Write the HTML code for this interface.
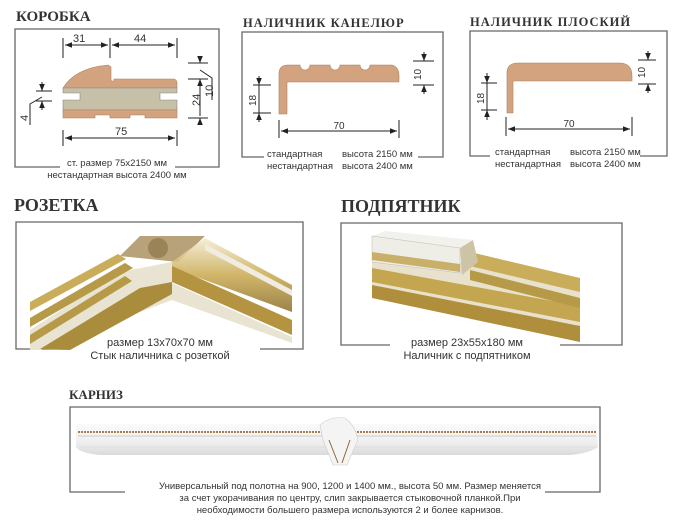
<!DOCTYPE html>
<html><head><meta charset="utf-8"><style>
body{margin:0;background:#fff;width:700px;height:531px;overflow:hidden}
svg{display:block}
.s{font-family:"Liberation Sans",sans-serif;fill:#333}
.t{font-family:"Liberation Serif",serif;fill:#333}
</style></head><body>
<svg width="700" height="531" viewBox="0 0 700 531" xmlns="http://www.w3.org/2000/svg">
<defs>
<marker id="a" viewBox="0 0 10 10" refX="10" refY="5" markerWidth="7" markerHeight="7" orient="auto-start-reverse"><path d="M0,1 L10,5 L0,9z" fill="#222"/></marker>
<linearGradient id="gold" x1="0" y1="0" x2="0" y2="1"><stop offset="0" stop-color="#f4ecd0"/><stop offset=".5" stop-color="#c9a94f"/><stop offset="1" stop-color="#8a6d28"/></linearGradient>
<linearGradient id="cor" x1="0" y1="0" x2="0" y2="1"><stop offset="0" stop-color="#fafafa"/><stop offset=".6" stop-color="#eeeeee"/><stop offset="1" stop-color="#d8d8d8"/></linearGradient>
</defs>
<g stroke="#666" stroke-width="1.3" fill="none">
<path d="M60,167 H15 V29 H219 V167 H175"/>
<path d="M264,157 H242 V32 H443 V157 H418"/>
<path d="M490,156 H470 V31 H667 V156 H640"/>
<path d="M65,349 H16 V222 H303 V349 H260"/>
<path d="M390,345 H341 V223 H622 V345 H560"/>
<path d="M125,492 H70 V407 H600 V492 H545"/>
</g>
<text x="16" y="21" class="t" font-size="15" font-weight="bold">КОРОБКА</text>
<text x="243" y="27" class="t" font-size="12.5" font-weight="bold" letter-spacing="1">НАЛИЧНИК КАНЕЛЮР</text>
<text x="470" y="26" class="t" font-size="12.5" font-weight="bold" letter-spacing="1">НАЛИЧНИК ПЛОСКИЙ</text>
<text x="14" y="211" class="t" font-size="18" font-weight="bold">РОЗЕТКА</text>
<text x="341" y="212" class="t" font-size="18" font-weight="bold">ПОДПЯТНИК</text>
<text x="69" y="399" class="t" font-size="13" font-weight="bold">КАРНИЗ</text>

<path d="M63,88 Q75,68 108,65 L111,67 V81 H114 V79 H174 Q177,80 177,83 V88 Z" fill="#d3a27f" stroke="#aa8060" stroke-width=".6"/>
<path d="M63,88 H177 V93 H160 V100 H177 V110 H63 V100 H80 V93 H63 Z" fill="#c5c0a7" stroke="#888" stroke-width=".6"/>
<path d="M63,110 H177 V118 H145 V115 H130 V118 H110 V115 H95 V118 H63 Z" fill="#d3a27f" stroke="#aa8060" stroke-width=".6"/>
<g stroke="#222" stroke-width="1" fill="none">
<path d="M63,38 V58 M110,38 V58 M177,38 V58 M63,130 V146 M177,130 V146"/>
<path d="M65,45 H108" marker-start="url(#a)" marker-end="url(#a)"/>
<path d="M112,45 H175" marker-start="url(#a)" marker-end="url(#a)"/>
<path d="M65,138 H175" marker-start="url(#a)" marker-end="url(#a)"/>
<path d="M188,63 H208 M188,79 H208 M188,118 H208"/>
<path d="M200,56 V63" marker-end="url(#a)"/><path d="M200,125 V118" marker-end="url(#a)"/>
<path d="M200,85 V79" marker-end="url(#a)"/><path d="M200,80 V116" />
<path d="M200,70 L212,78 V100"/>
<path d="M36,91 H52 M36,101 H52 M42,82 V91" marker-end="url(#a)"/><path d="M42,110 V101" marker-end="url(#a)"/>
<path d="M42,97 L30,104 V125"/>
</g>
<text x="73" y="42" class="s" font-size="11">31</text>
<text x="134" y="42" class="s" font-size="11">44</text>
<text x="115" y="135" class="s" font-size="11">75</text>
<text class="s" font-size="11" transform="translate(200,106) rotate(-90)">24</text>
<text class="s" font-size="11" transform="translate(213,97) rotate(-90)">10</text>
<text class="s" font-size="11" transform="translate(28,121) rotate(-90)">4</text>
<text x="117" y="166" class="s" font-size="9.5" text-anchor="middle">ст. размер 75x2150 мм</text>
<text x="117" y="178" class="s" font-size="9.5" text-anchor="middle">нестандартная высота 2400 мм</text>

<path d="M279,114 V74 Q279,65 288,65 H300 A5,5 0 0 0 310,65 H330 A5,5 0 0 0 340,65 H360 A5,5 0 0 0 370,65 H392 Q399,67 399,76 V82 H287 V114 Z" fill="#d3a27f" stroke="#aa8060" stroke-width=".6"/>
<g stroke="#222" stroke-width="1" fill="none">
<path d="M253,85 H271 M253,113 H271 M259,76 V85" marker-end="url(#a)"/><path d="M259,122 V113" marker-end="url(#a)"/><path d="M259,85 V113"/>
<path d="M413,61 H434 M413,85 H434 M424,52 V61" marker-end="url(#a)"/><path d="M424,94 V85" marker-end="url(#a)"/>
<path d="M279,120 V138 M399,120 V138"/>
<path d="M281,131 H397" marker-start="url(#a)" marker-end="url(#a)"/>
</g>
<text class="s" font-size="10" transform="translate(256,106) rotate(-90)">18</text>
<text class="s" font-size="10" transform="translate(421,80) rotate(-90)">10</text>
<text x="339" y="129" class="s" font-size="10" text-anchor="middle">70</text>
<text x="267" y="157" class="s" font-size="9.5">стандартная</text>
<text x="342" y="157" class="s" font-size="9.5">высота 2150 мм</text>
<text x="267" y="169" class="s" font-size="9.5">нестандартная</text>
<text x="342" y="169" class="s" font-size="9.5">высота 2400 мм</text>

<path d="M507,113 V73 Q507,63 518,63 H621 Q632,64 632,76 V81 H513 V113 Z" fill="#d3a27f" stroke="#aa8060" stroke-width=".6"/>
<g stroke="#222" stroke-width="1" fill="none">
<path d="M481,83 H497 M481,110 H497 M487,73 V83" marker-end="url(#a)"/><path d="M487,120 V110" marker-end="url(#a)"/><path d="M487,83 V110"/>
<path d="M638,60 H656 M638,84 H656 M648,51 V60" marker-end="url(#a)"/><path d="M648,93 V84" marker-end="url(#a)"/>
<path d="M506,117 V136 M632,117 V136"/>
<path d="M508,129 H630" marker-start="url(#a)" marker-end="url(#a)"/>
</g>
<text class="s" font-size="10" transform="translate(484,104) rotate(-90)">18</text>
<text class="s" font-size="10" transform="translate(645,78) rotate(-90)">10</text>
<text x="569" y="127" class="s" font-size="10" text-anchor="middle">70</text>
<text x="495" y="155" class="s" font-size="9.5">стандартная</text>
<text x="570" y="155" class="s" font-size="9.5">высота 2150 мм</text>
<text x="495" y="167" class="s" font-size="9.5">нестандартная</text>
<text x="570" y="167" class="s" font-size="9.5">высота 2400 мм</text>

<!-- Rozetka photo -->
<g>
<path d="M30,330 L120,272 L172,262 L172,300 L40,350 L30,350 Z" fill="#e9e4d2"/>
<path d="M30,335 L125,276 L132,281 L30,344 Z" fill="#b79a48"/>
<path d="M30,318 L125,263 L133,268 L30,327 Z" fill="#b79a48"/>
<path d="M30,302 L118,254 L126,259 L30,311 Z" fill="#c9ad5a"/>
<path d="M40,349 L140,288 L172,282 L172,294 L70,350 Z" fill="#a98c3c"/>
<path d="M120,256 L140,236 L205,236 L178,262 Z" fill="#b8a27a"/>
<circle cx="158" cy="248" r="10" fill="#9b8358"/>
<path d="M172,262 L205,238 L292,285 V312 L172,268 Z" fill="url(#gold)" opacity=".85"/>
<path d="M205,244 L292,290 L292,296 L205,250 Z" fill="#f0ecdf"/>
<path d="M172,266 L292,320 V335 L172,282 Z" fill="#b49440"/>
<path d="M172,283 L292,337 V343 L172,300 Z" fill="#e9e4d2"/>
</g>
<text x="160" y="346" class="s" font-size="11" text-anchor="middle">размер 13x70x70 мм</text>
<text x="160" y="359" class="s" font-size="11" text-anchor="middle">Стык наличника с розеткой</text>

<g>
<path d="M372,246 L580,284 V342 L372,294 Z" fill="#e8e2cc"/>
<path d="M372,268 L580,306 V322 L372,282 Z" fill="#c4a650"/>
<path d="M372,285 L580,326 V342 L372,298 Z" fill="#b08f3c"/>
<path d="M470,252 L580,278 V292 L470,266 Z" fill="#c9ad5a"/>
<path d="M470,270 L580,298 V308 L470,280 Z" fill="#b79a48"/>
<path d="M372,236 L385,231 L473,240 L460,248 Z" fill="#f2f1ec"/>
<path d="M372,236 L460,248 V273 L372,262 Z" fill="#eeeee6" stroke="#bbb" stroke-width=".5"/>
<path d="M372,252 L460,264 V272 L372,260 Z" fill="#c9b06a"/>
<path d="M460,248 L473,240 L478,262 L462,275 Z" fill="#ccc4a4"/>
</g>
<rect x="393" y="337" width="150" height="24" fill="#fff"/>
<text x="467" y="346" class="s" font-size="11" text-anchor="middle">размер 23x55x180 мм</text>
<text x="467" y="359" class="s" font-size="11" text-anchor="middle">Наличник с подпятником</text>

<path d="M76,424 H596 L598,447 Q590,453 570,455 H100 Q80,453 76,447 Z" fill="url(#cor)" opacity=".95"/>
<path d="M78,432 H596" stroke="#a97b50" stroke-width="2" stroke-dasharray="2,1"/>
<path d="M78,436 H596" stroke="#ccc" stroke-width="1"/>
<path d="M80,447 H596" stroke="#ddd" stroke-width="1"/>
<path d="M320,425 Q330,416 345,418 Q355,425 358,440 L347,465 H333 L323,440 Z" fill="#f4f4f4" stroke="#ccc" stroke-width=".6"/>
<path d="M329,440 L338,463 M350,440 L342,463" stroke="#8a6a3a" stroke-width="1"/>
<text x="350" y="489" class="s" font-size="9.5" text-anchor="middle">Универсальный под полотна на 900, 1200 и 1400 мм., высота 50 мм. Размер меняется</text>
<text x="350" y="501" class="s" font-size="9.5" text-anchor="middle">за счет укорачивания по центру, слип закрывается стыковочной планкой.При</text>
<text x="350" y="513" class="s" font-size="9.5" text-anchor="middle">необходимости большего размера используются 2 и более карнизов.</text>
</svg>
</body></html>
